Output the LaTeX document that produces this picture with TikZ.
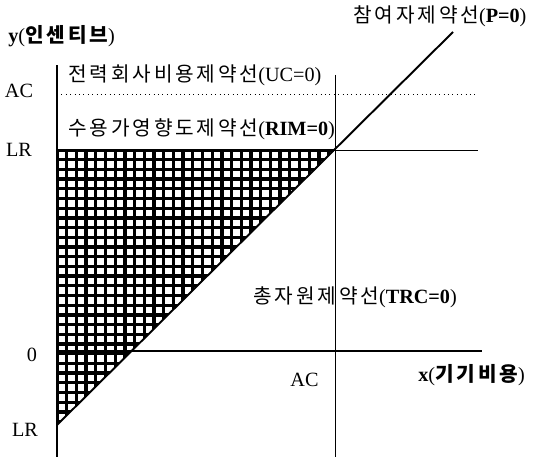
\documentclass[tikz,border=0pt]{standalone}
\usepackage{fontspec}
\setmainfont{Liberation Serif}
\newfontfamily\kr{Noto Sans CJK KR}[LetterSpace=14]
\usepackage{tikz}

\begin{document}
\begin{tikzpicture}[
    font=\fontsize{11.5}{13}\selectfont,
    thickline/.style={line width=1.7pt},
    thinline/.style={line width=0.5pt},
    lbl/.style={inner sep=0pt, anchor=west}
]
    \useasboundingbox (-1.14,-2.16) rectangle (9.56,7.02);

    % Points
    \coordinate (O) at (0,0);
    \coordinate (LRt) at (0,4.02);
    \coordinate (LRb) at (0,-1.48);
    \coordinate (K) at (5.56,4.02);
    \coordinate (Pend) at (7.92,6.38);

    % Hatched region
    \begin{scope}
        \clip (LRb) -- (LRt) -- (K) -- cycle;
        \draw[line width=1.9pt, shift={(0,4.02)}, step=0.194] (-0.1,-5.7) grid (5.7,0.1);
    \end{scope}

    % Axes
    \draw[thickline] (0,-2.12) -- (0,5.72);
    \draw[thickline] (O) -- (8.5,0);

    % Constraint lines
    \draw[thinline, dotted] (0,5.14) -- (8.42,5.14);
    \draw[thickline] (LRt) -- (K);
    \draw[thinline] (K) -- (8.42,4.02);
    \draw[thinline] (5.56,5.52) -- (5.56,-2.12);
    \draw[line width=1.1pt] (LRb) -- (Pend);

    % Labels
    \node[lbl] (ylab) at (-0.98,6.3) {\textbf{y}({\kr\bfseries 인센티브})};
    \node[lbl] (xlab) at (7.22,-0.48) {\textbf{x}({\kr\bfseries 기기비용})};
    \node[lbl] (plab) at (5.92,6.7) {{\kr 참여자제약선}(\textbf{P=0})};
    \node[lbl] (uclab) at (0.22,5.52) {{\kr 전력회사비용제약선}(UC=0)};
    \node[lbl] (rimlab) at (0.22,4.44) {{\kr 수용가영향도제약선}(\textbf{RIM=0})};
    \node[lbl] (trclab) at (3.92,1.08) {{\kr 총자원제약선}(\textbf{TRC=0})};
    \node (acy) at (-0.76,5.2) {AC};
    \node (lry) at (-0.76,4.02) {LR};
    \node (zero) at (-0.5,-0.08) {0};
    \node (lrb) at (-0.64,-1.58) {LR};
    \node (acx) at (4.95,-0.58) {AC};
\end{tikzpicture}
\end{document}
